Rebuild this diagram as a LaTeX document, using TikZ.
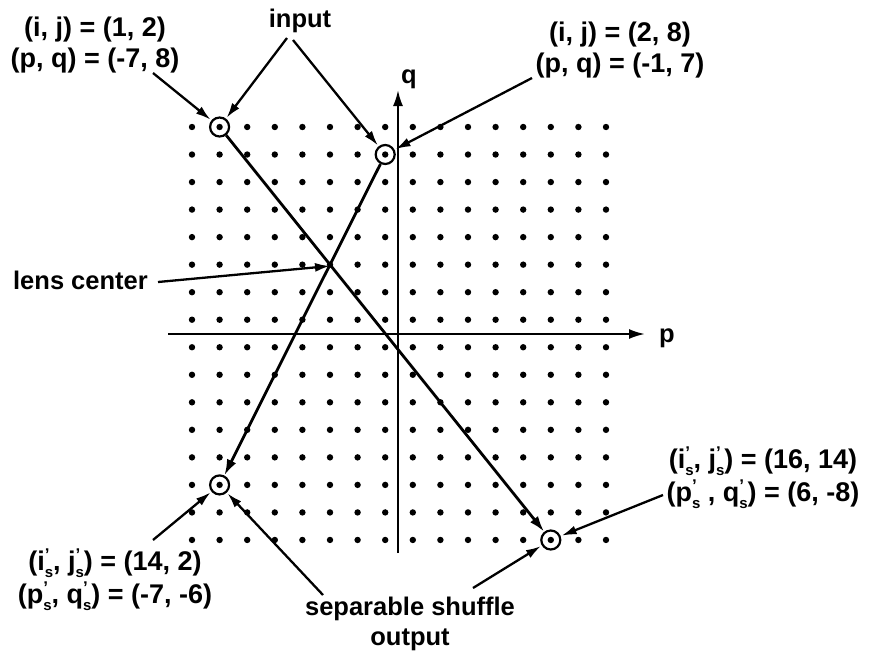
\documentclass[tikz,border=0pt]{standalone}
\usepackage{fontspec}
\setmainfont{Liberation Sans}
\usetikzlibrary{arrows.meta}
\newcommand{\primesub}[1]{#1\rlap{\raisebox{0.36em}{\fontsize{17}{17}\selectfont '}}\raisebox{-0.26em}{\fontsize{15}{15}\selectfont s}}
\begin{document}
\begin{tikzpicture}[x=1pt,y=-1pt,
  lbl/.style={font=\bfseries\fontsize{25.5}{30}\selectfont, align=center, inner sep=0pt},
  coord/.style={font=\bfseries\fontsize{27}{31}\selectfont, align=center, inner sep=0pt},
  coordp/.style={font=\bfseries\fontsize{27}{33}\selectfont, align=center, inner sep=0pt},
  marker/.style={circle, draw, line width=2.2pt, minimum size=19pt, inner sep=0pt},
  mainline/.style={line width=2.8pt, -{Latex[length=16pt,width=10pt]}},
  pointer/.style={line width=2.3pt, -{Latex[length=15pt,width=9pt]}, shorten >=1pt},
  axis/.style={line width=2.2pt, -{Latex[length=16pt,width=10pt]}}]
\useasboundingbox (0,0) rectangle (873,654);
% grid of dots
\foreach \r in {0,...,15} {
  \foreach \c in {0,...,15} {
    \fill (192+27.6*\c, 127+27.53*\r) circle (3.2pt);
  }
}
% axes
\coordinate (pstart) at (168,334);
\coordinate (pend) at (645,334);
\coordinate (qstart) at (398,553);
\coordinate (qend) at (398,90);
\draw[axis] (pstart) -- (pend);
\draw[axis] (qstart) -- (qend);
\node[lbl] (plabel) at (667,338) {p};
\node[lbl] (qlabel) at (409,79) {q};
% markers
\node[marker] (in1) at (219.6,127) {};
\node[marker] (in2) at (385.2,154.5) {};
\node[marker] (out1) at (219.6,484.9) {};
\node[marker] (out2) at (550.8,540) {};
% main rays
\draw[mainline] (in1) -- (out2);
\draw[mainline] (in2) -- (out1);
% labels
\node[coord] (tl) at (95,45) {(i, j) = (1, 2)\\(p, q) = (-7, 8)};
\node[coord] (tr) at (620,50) {(i, j) = (2, 8)\\(p, q) = (-1, 7)};
\node[lbl] (input) at (300,21) {input};
\node[lbl, anchor=east] (lens) at (148,280) {lens center};
\node[coordp] (bl) at (115,580) {(\primesub{i}, \primesub{j}) = (14, 2)\\(\primesub{p}, \primesub{q}) = (-7, -6)};
\node[lbl] (sep) at (410,624) {separable shuffle\\output};
\node[coordp] (br) at (763,478) {(\primesub{i}, \primesub{j}) = (16, 14)\\(\primesub{p} , \primesub{q}) = (6, -8)};
% pointer start points
\coordinate (a1) at (153,73);
\coordinate (a2) at (287,38);
\coordinate (a3) at (293,40);
\coordinate (a4) at (532,78);
\coordinate (a5) at (158,282);
\coordinate (lc) at (330,266);
\coordinate (a6) at (153,540);
\coordinate (a7) at (323,595);
\coordinate (a8) at (473,588);
\coordinate (a9) at (663,495);
\draw[pointer] (a1) -- (in1);
\draw[pointer] (a2) -- (in1);
\draw[pointer] (a3) -- (in2);
\draw[pointer] (a4) -- (in2);
\draw[pointer, shorten >=0pt] (a5) -- (lc);
\draw[pointer] (a6) -- (out1);
\draw[pointer] (a7) -- (out1);
\draw[pointer] (a8) -- (out2);
\draw[pointer] (a9) -- (out2);
\end{tikzpicture}
\end{document}
